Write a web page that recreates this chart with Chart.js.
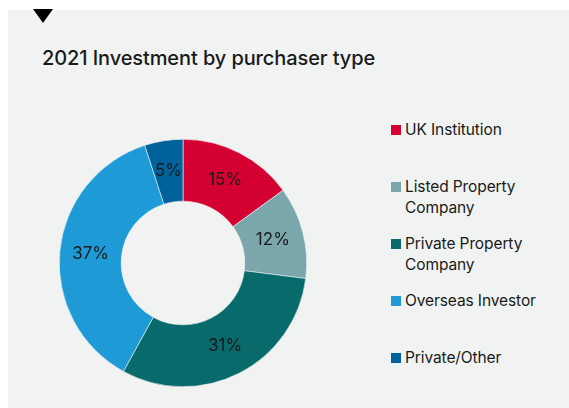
<!DOCTYPE html>
<html>
<head>
<meta charset="utf-8">
<script src="https://cdn.jsdelivr.net/npm/chart.js@4"></script>
<style>
  html, body { margin: 0; padding: 0; background: #fff; }
  body { width: 569px; height: 408px; position: relative; overflow: hidden; font-family: Inter, "Noto Sans", sans-serif; color: #1a1a1a; }
  #panel { position: absolute; left: 8px; top: 10px; width: 561px; height: 398px; background: #f0f3f2; }
  #tri { position: absolute; left: 33px; top: 9px; width: 0; height: 0;
    border-left: 10px solid transparent; border-right: 10px solid transparent; border-top: 14px solid #000; }
  #title { position: absolute; left: 42px; top: 46px; font-size: 20px; font-weight: 500; letter-spacing: -0.1px; white-space: nowrap; }
  #wrap { position: absolute; left: 53px; top: 133px; width: 260px; height: 260px; }
  #legend { position: absolute; left: 391px; top: 0; }
  .item { position: absolute; left: 0; width: 175px; font-size: 15.5px; line-height: 21px; letter-spacing: -0.1px; }
  .sw { position: absolute; left: 0; top: 6px; width: 10px; height: 10px; }
  .txt { position: absolute; left: 14px; top: 0; white-space: nowrap; }
</style>
</head>
<body>
<div id="panel"></div>
<div id="tri"></div>
<div id="title">2021 Investment by purchaser type</div>
<div id="wrap"><canvas id="donut"></canvas></div>
<div id="legend"></div>
<script>
const labels = ["UK Institution", "Listed Property Company", "Private Property Company", "Overseas Investor", "Private/Other"];
const legendLines = [["UK Institution"], ["Listed Property", "Company"], ["Private Property", "Company"], ["Overseas Investor"], ["Private/Other"]];
const values = [15, 12, 31, 37, 5];
const colors = ["#d50032", "#7ba7ac", "#086a6a", "#1e9ad6", "#00629b"];

// legend
const legend = document.getElementById("legend");
legendLines.forEach((lines, i) => {
  const item = document.createElement("div");
  item.className = "item";
  item.style.top = (119 + i * 57) + "px";
  item.innerHTML = '<div class="sw" style="background:' + colors[i] + '"></div><div class="txt">' + lines.join("<br>") + '</div>';
  legend.appendChild(item);
});

// percent labels in the middle of each arc
const pctLabels = {
  id: "pctLabels",
  afterDatasetsDraw(chart) {
    const ctx = chart.ctx;
    const meta = chart.getDatasetMeta(0);
    ctx.save();
    ctx.font = "17px Inter, 'Noto Sans', sans-serif";
    ctx.fillStyle = "#1a1a1a";
    ctx.textAlign = "center";
    ctx.textBaseline = "middle";
    meta.data.forEach((arc, i) => {
      const p = arc.tooltipPosition();
      ctx.fillText(values[i] + "%", p.x, p.y);
    });
    ctx.restore();
  }
};

new Chart(document.getElementById("donut"), {
  type: "doughnut",
  data: {
    labels: labels,
    datasets: [{
      data: values,
      backgroundColor: colors,
      borderColor: "#f0f3f2",
      borderWidth: 0.6
    }]
  },
  options: {
    responsive: true,
    maintainAspectRatio: false,
    animation: false,
    cutout: "50%",
    layout: { padding: 6 },
    plugins: {
      legend: { display: false },
      tooltip: { enabled: false }
    }
  },
  plugins: [pctLabels]
});
</script>
</body>
</html>
